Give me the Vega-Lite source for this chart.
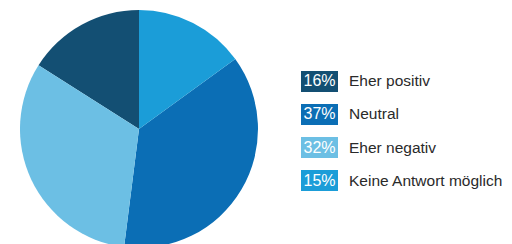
{
  "$schema": "https://vega.github.io/schema/vega-lite/v6.json",
  "background": "white",
  "padding": 0,
  "spacing": 23,
  "config": {"view": {"stroke": null}, "font": "Liberation Sans"},
  "data": {"values": [
    {"label": "Eher positiv", "pct": 0.16, "rank": 1, "pie": 4},
    {"label": "Neutral", "pct": 0.37, "rank": 2, "pie": 2},
    {"label": "Eher negativ", "pct": 0.32, "rank": 3, "pie": 3},
    {"label": "Keine Antwort möglich", "pct": 0.15, "rank": 4, "pie": 1}
  ]},
  "hconcat": [
    {
      "width": 278,
      "height": 258,
      "mark": {"type": "arc", "outerRadius": 119},
      "encoding": {
        "theta": {"field": "pct", "type": "quantitative", "stack": true},
        "order": {"field": "pie", "type": "quantitative"},
        "color": {
          "field": "label", "type": "nominal", "legend": null,
          "scale": {"domain": ["Eher positiv", "Neutral", "Eher negativ", "Keine Antwort möglich"],
                    "range": ["#134f73", "#0b6eb5", "#6cbfe4", "#1b9dd8"]}
        }
      }
    },
    {
      "width": 211,
      "height": 258,
      "encoding": {
        "y": {"field": "label", "type": "nominal", "sort": {"field": "rank"}, "axis": null,
              "scale": {"range": [71, 191], "paddingInner": 0.364, "paddingOuter": 0}}
      },
      "layer": [
        {
          "mark": {"type": "rect"},
          "encoding": {
            "x": {"value": 0},
            "x2": {"value": 37},
            "color": {
              "field": "label", "type": "nominal", "legend": null,
              "scale": {"domain": ["Eher positiv", "Neutral", "Eher negativ", "Keine Antwort möglich"],
                        "range": ["#134f73", "#0b6eb5", "#6cbfe4", "#1b9dd8"]}
            }
          }
        },
        {
          "mark": {"type": "text", "align": "center", "baseline": "middle", "fontSize": 16, "color": "white"},
          "encoding": {
            "x": {"value": 18.5},
            "text": {"field": "pct", "type": "quantitative", "format": ".0%"}
          }
        },
        {
          "mark": {"type": "text", "align": "left", "baseline": "middle", "fontSize": 15.5, "color": "#2a2a2a"},
          "encoding": {
            "x": {"value": 48},
            "text": {"field": "label", "type": "nominal"}
          }
        }
      ]
    }
  ]
}
